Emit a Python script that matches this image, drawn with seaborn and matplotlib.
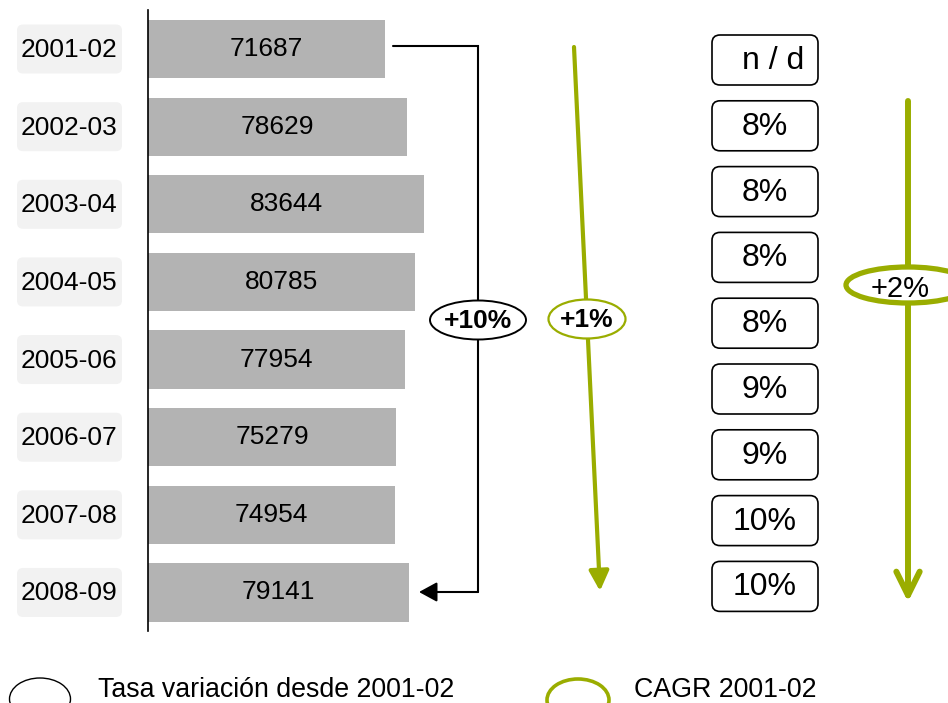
import matplotlib
matplotlib.use("Agg")
import matplotlib.pyplot as plt
from matplotlib.patches import Ellipse, FancyBboxPatch
import seaborn as sns
import pandas as pd

# Data
periods = ["2001-02", "2002-03", "2003-04", "2004-05", "2005-06",
           "2006-07", "2007-08", "2008-09"]
students = [71687, 78629, 83644, 80785, 77954, 75279, 74954, 79141]
cagr_labels = ["n / d", "8%", "8%", "8%", "8%", "9%", "9%", "10%", "10%"]
change_label = "+10%"
cagr_period_label = "+1%"
cagr_side_label = "+2%"
legend_labels = ["Tasa variación desde 2001-02", "CAGR 2001-02"]

GREEN = "#9aad00"
GREY = "#b3b3b3"

sns.set_theme(style="white")
plt.rcParams["font.family"] = ["Liberation Sans", "DejaVu Sans"]
plt.rcParams["text.color"] = "black"

W, H = 948, 703
fig = plt.figure(figsize=(W / 100, H / 100), dpi=100)

# Bar axes (pixel layout: left edge 148, rows from y=10 to y=631)
top_px, bot_px, left_px, width_px = 10.2, 631.3, 148, 300
ax = fig.add_axes([left_px / W, 1 - bot_px / H, width_px / W, (bot_px - top_px) / H])
df = pd.DataFrame({"period": periods, "students": students})
sns.barplot(data=df, x="students", y="period", orient="h", color=GREY,
            width=0.75, linewidth=0, saturation=1, ax=ax)
ax.set_xlim(0, width_px / 0.0033)
ax.set_ylim(len(periods) - 0.5, -0.5)
ax.bar_label(ax.containers[0], labels=[str(v) for v in students],
             label_type="center", fontsize=19, color="black")
ax.set_xticks([])
ax.set_yticks([])
ax.set_xlabel("")
ax.set_ylabel("")
for side in ["top", "right", "bottom"]:
    ax.spines[side].set_visible(False)
ax.spines["left"].set_color("black")
ax.spines["left"].set_linewidth(1.2)
ax.patch.set_alpha(0)

# Overlay axes in pixel coordinates for annotations
ov = fig.add_axes([0, 0, 1, 1])
ov.set_xlim(0, W)
ov.set_ylim(H, 0)
ov.axis("off")
ov.patch.set_alpha(0)


def row_y(i):
    disp = ax.transData.transform((0, i))
    return ov.transData.inverted().transform(disp)[1]


# Period labels in light rounded boxes
for i, p in enumerate(periods):
    yc = row_y(i)
    ov.add_patch(FancyBboxPatch((17 + 6, yc - 24.5 + 6), 105 - 12, 49 - 12,
                                boxstyle="round,pad=6", fc="#f2f2f2", ec="none"))
    ov.text(69, yc + 1, p, ha="center", va="center", fontsize=19)

# Bracket from first to last bar with arrow
ov.plot([393, 478, 478], [46, 46, 592], color="black", lw=1.5,
        solid_joinstyle="miter")
ov.annotate("", xy=(419, 592), xytext=(478, 592),
            arrowprops=dict(arrowstyle="-|>,head_length=0.55,head_width=0.3",
                            color="black", lw=1.5, mutation_scale=20,
                            shrinkA=0, shrinkB=0))
ov.add_patch(Ellipse((478, 320), 96, 39, fc="white", ec="black", lw=1.4, zorder=5))
ov.text(478, 321, change_label, ha="center", va="center", fontsize=19,
        fontweight="bold", zorder=6)

# Slanted green arrow
ov.annotate("", xy=(600, 591), xytext=(574, 47),
            arrowprops=dict(arrowstyle="-|>,head_length=0.6,head_width=0.3",
                            color=GREEN, lw=3, mutation_scale=20,
                            shrinkA=0, shrinkB=0))
ov.add_patch(Ellipse((587, 319), 77, 39, fc="white", ec=GREEN, lw=1.6, zorder=5))
ov.text(587, 320, cagr_period_label, ha="center", va="center", fontsize=19,
        fontweight="bold", zorder=6)

# Yearly growth boxes
for j, lab in enumerate(cagr_labels):
    yc = 60 + 65.8 * j
    ov.add_patch(FancyBboxPatch((712 + 8, yc - 25 + 8), 106 - 16, 50 - 16,
                                boxstyle="round,pad=8", fc="white", ec="black",
                                lw=1.2))
    dx = 8 if lab == "n / d" else 0
    ov.text(765 + dx, yc + 1, lab, ha="center", va="center", fontsize=23)

# Right vertical green arrow
ov.annotate("", xy=(908, 602), xytext=(908, 101),
            arrowprops=dict(arrowstyle="->,head_length=0.85,head_width=0.42",
                            color=GREEN, lw=4.3, mutation_scale=20,
                            shrinkA=0, shrinkB=0, capstyle="round"))
ov.add_patch(Ellipse((908, 285), 124, 36, fc="white", ec=GREEN, lw=3.8, zorder=5))
ov.text(900, 289, cagr_side_label, ha="center", va="center", fontsize=21, zorder=6)

# Legend
ov.add_patch(Ellipse((40, 699), 61, 42, fc="white", ec="black", lw=1.0))
ov.text(98, 697, legend_labels[0], ha="left", va="baseline", fontsize=19.3)
ov.add_patch(Ellipse((578, 700), 62, 42, fc="white", ec=GREEN, lw=2.6))
ov.text(634, 697, legend_labels[1], ha="left", va="baseline", fontsize=19.3)

fig.savefig("out.png", dpi=100)
